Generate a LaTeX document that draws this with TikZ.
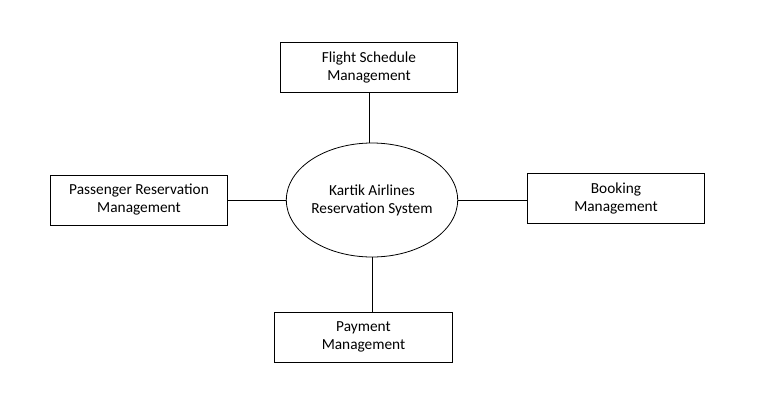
\documentclass[tikz,border=0pt]{standalone}
\usepackage{fontspec}
\setmainfont{Carlito}
\usetikzlibrary{shapes.geometric}
\begin{document}
\begin{tikzpicture}[x=0.75pt,y=-0.75pt,
  box/.style={draw,line width=0.75pt,rectangle,inner sep=0pt,minimum width=133pt,minimum height=37.5pt,align=center,font=\fontsize{11.5}{13.5}\selectfont},
  hub/.style={draw,line width=0.6pt,ellipse,inner sep=0pt,minimum width=127.5pt,minimum height=85.5pt,align=center,font=\fontsize{11.5}{13.5}\selectfont},
  link/.style={line width=0.75pt}]
\useasboundingbox (0,0) rectangle (761,415);
\node[hub] (sys) at (372,200) {Kartik Airlines\\Reservation System};
\node[box] (fsm) at (369,67.5) {Flight Schedule\\Management};
\node[box] (prm) at (139,200) {Passenger Reservation\\Management};
\node[box] (bkm) at (616,198) {Booking\\Management};
\node[box] (pay) at (363.5,337) {Payment\\Management};
\draw[link] (fsm.south) -- (fsm.south |- sys.north);
\draw[link] (prm.east) -- (sys.west |- prm.east);
\draw[link] (sys.east) -- (bkm.west |- sys.east);
\draw[link] (sys.south) -- (sys.south |- pay.north);
\end{tikzpicture}
\end{document}
